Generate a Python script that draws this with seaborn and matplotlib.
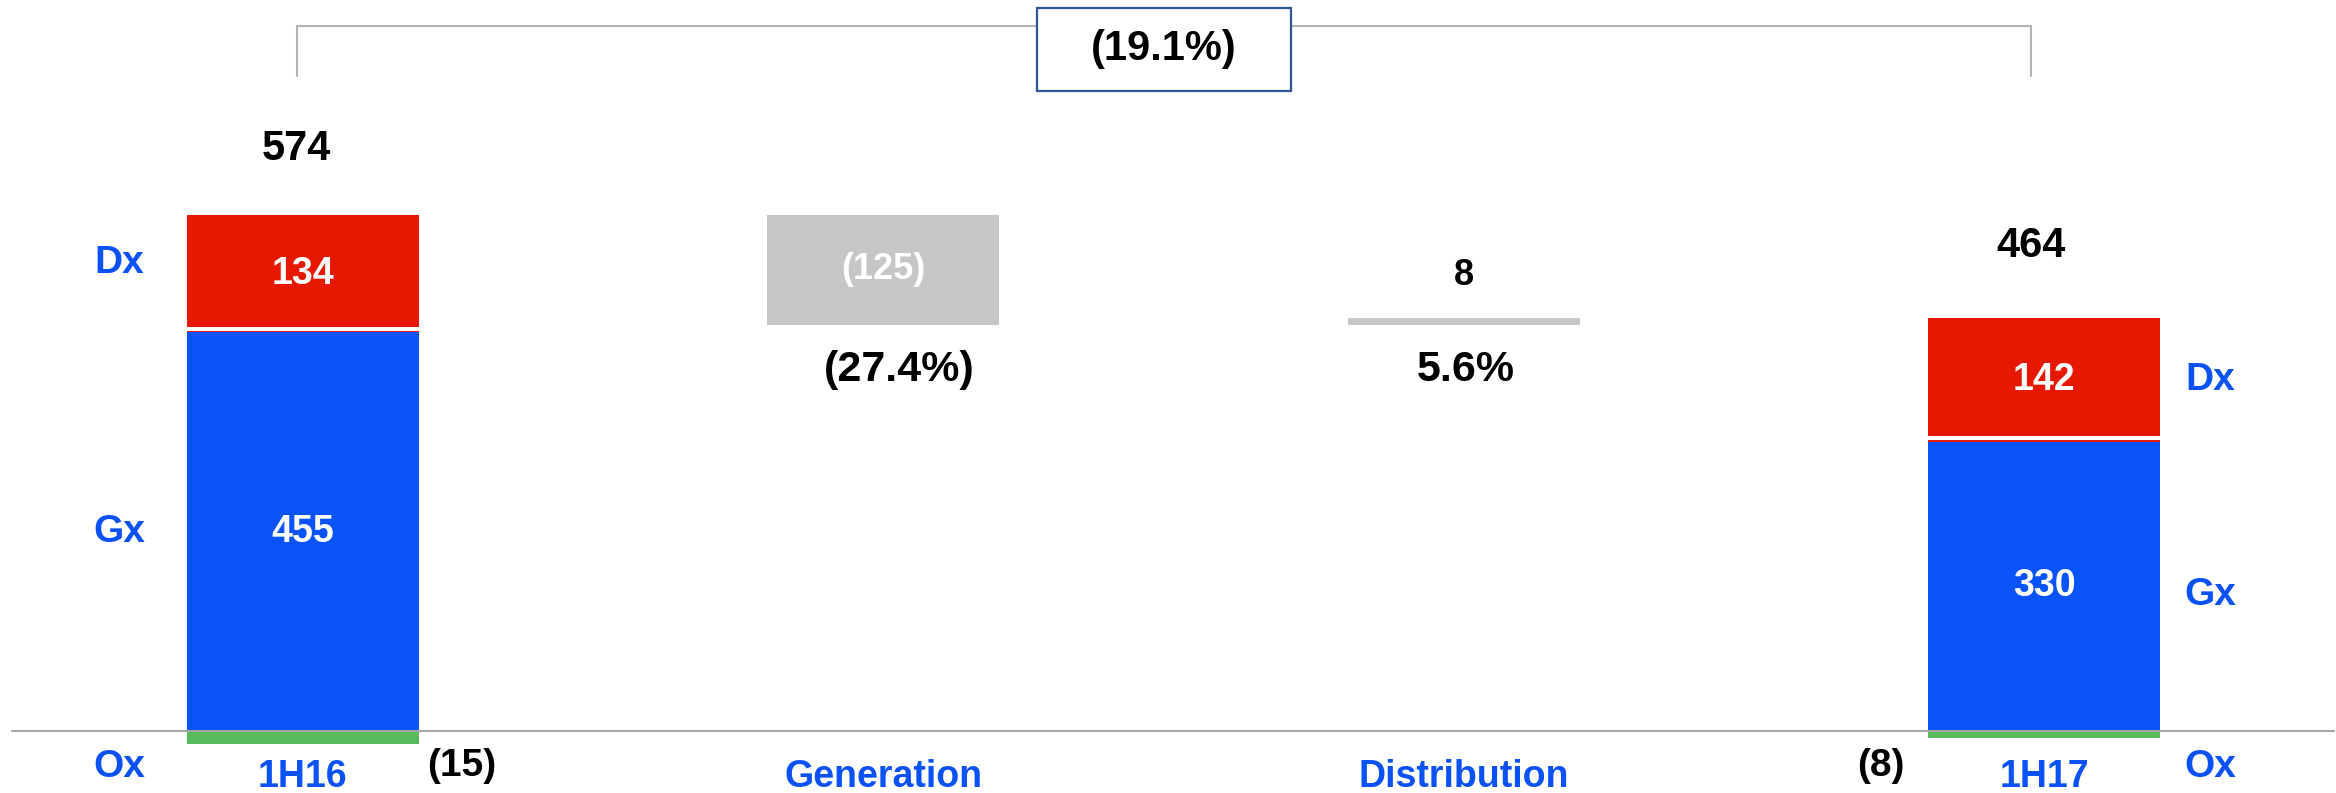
import numpy as np
import pandas as pd
import matplotlib
matplotlib.use("Agg")
import matplotlib.pyplot as plt
import seaborn as sns
from matplotlib.patches import Rectangle

# data
periods = ['1H16', 'Generation', 'Distribution', '1H17']
end_periods = ['1H16', '1H17']
gx = [455, 330]
dx = [134, 142]
ox = [-15, -8]
totals = [574, 464]
bridge_changes = [-125, 8]
change_labels = ['(125)', '8']
change_pct = ['(27.4%)', '5.6%']
ox_labels = ['(15)', '(8)']
total_change = '(19.1%)'

red = '#E61800'
blue = '#0854FA'
green = '#58BC5C'
grey = '#C6C6C6'
label_blue = '#0A52F6'

sns.set_theme(style='white')
plt.rcParams['font.family'] = ['Liberation Sans', 'DejaVu Sans']

fig = plt.figure(figsize=(23.36, 7.93), dpi=100)
ax = fig.add_axes([0, 0, 1, 1])

ends = pd.DataFrame({'period': end_periods, 'gx': gx, 'dx': dx, 'ox': ox, 'total': totals})
ends['gross'] = ends.gx + ends.dx
xpos = [periods.index(p) for p in end_periods]
bw = 0.4
bracket_x = [xpos[0] - 0.01, xpos[1] - 0.023]

# stacked end bars (overlay: gross first, then Gx on top, Ox below zero)
for col, c in [('gross', red), ('gx', blue), ('ox', green)]:
    sns.barplot(data=ends, x='period', y=col, order=periods, color=c, saturation=1,
                width=bw, errorbar=None, linewidth=0, ax=ax)

# white separator between Dx and Gx
ax.hlines(ends.gx + 4, [x - bw / 2 for x in xpos], [x + bw / 2 for x in xpos],
          color='white', lw=2.9, zorder=4)

# floating bridge bars
level = ends.gross.iloc[0]
for i, ch in enumerate(bridge_changes):
    lo = min(level, level + ch)
    hi = max(level, level + ch)
    ax.bar(i + 1, abs(ch), bottom=lo, width=bw, color=grey, lw=0, zorder=3)
    if ch < 0:
        ax.text(i + 1, (lo + hi) / 2, change_labels[i], ha='center', va='center',
                fontsize=26, fontweight='bold', color='white', zorder=6)
    else:
        ax.text(i + 1, hi + 48, change_labels[i], ha='center', va='center',
                fontsize=26, fontweight='bold', color='black')
    ax.text(i + 1 + (0.027 if ch < 0 else 0.004), lo - 52, change_pct[i],
            ha='center', va='center', fontsize=31, fontweight='bold', color='black')
    level += ch

# labels on the end bars
for k, x in enumerate(xpos):
    g, d, t = ends.gx[k], ends.dx[k], ends.total[k]
    ax.text(x, g / 2, str(g), ha='center', va='center', fontsize=27,
            fontweight='bold', color='white', zorder=6)
    ax.text(x, g + d / 2, str(d), ha='center', va='center', fontsize=27,
            fontweight='bold', color='white', zorder=6)
    ax.text(bracket_x[k], t + 90, str(t), ha='center', va='center', fontsize=30,
            fontweight='bold', color='black')
    side = x - 0.316 if k == 0 else x + 0.286
    ax.text(side, g + d / 2 + (12 if k == 0 else 0), 'Dx', ha='center', va='center',
            fontsize=28, fontweight='bold', color=label_blue)
    ax.text(side, g / 2 - (0 if k == 0 else 10), 'Gx', ha='center', va='center',
            fontsize=28, fontweight='bold', color=label_blue)
    ax.text(side, -41, 'Ox', ha='center', va='center',
            fontsize=28, fontweight='bold', color=label_blue)

ax.text(xpos[0] + bw / 2 + 0.015, -40, ox_labels[0], ha='left', va='center',
        fontsize=28, fontweight='bold', color='black')
ax.text(xpos[1] - bw / 2 - 0.04, -40, ox_labels[1], ha='right', va='center',
        fontsize=28, fontweight='bold', color='black')

# category labels
for i, p in enumerate(periods):
    ax.text(i, -53, p, ha='center', va='center', fontsize=27,
            fontweight='bold', color=label_blue)

# zero line
ax.axhline(0, xmin=0.005, xmax=0.999, color='#A6A6A6', lw=1.5, zorder=5)

# bracket with total change box
ax.plot([bracket_x[0], bracket_x[0], bracket_x[1], bracket_x[1]], [748, 805, 805, 748],
        color='#B4B4B4', lw=1.5, zorder=2)
ax.add_patch(Rectangle((1.265, 731), 0.4375, 94, facecolor='white',
                       edgecolor='#2E5597', lw=1.6, zorder=3))
ax.text(1.484, 778, total_change, ha='center', va='center', fontsize=30,
        fontweight='bold', color='black', zorder=4)

ax.set_xlim(-0.5214, 3.5027)
ax.set_ylim(-70.8, 834.5)
ax.axis('off')

fig.savefig('out.png', dpi=100)
